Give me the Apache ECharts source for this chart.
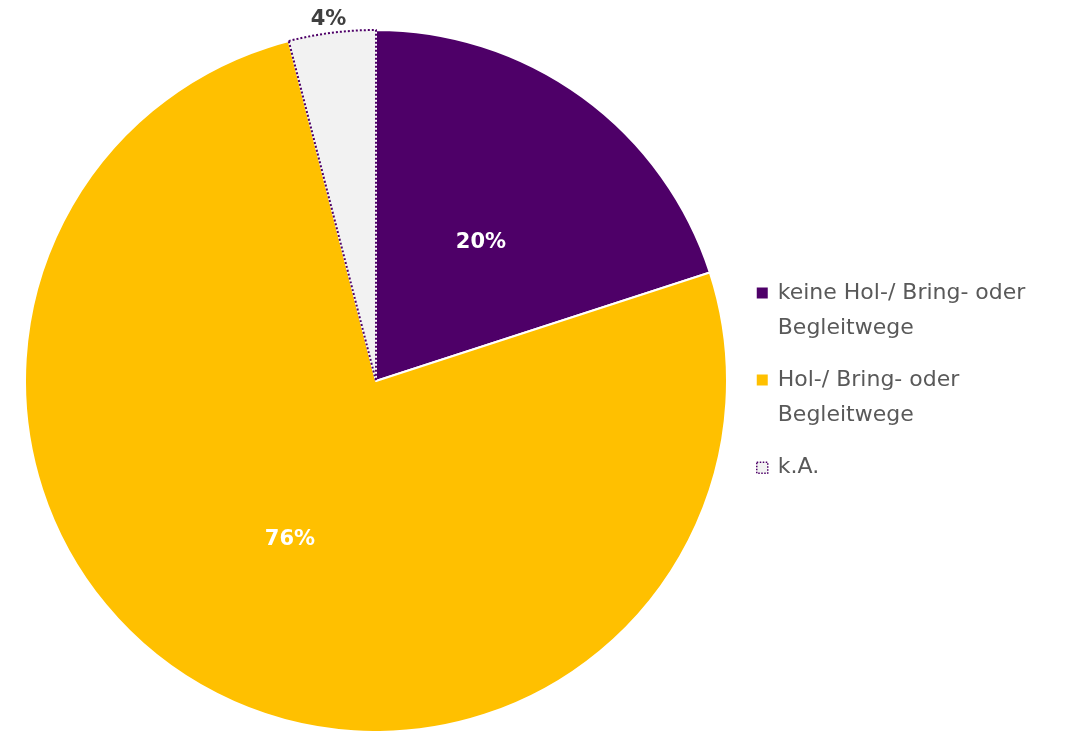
<!DOCTYPE html>
<html><head><meta charset="utf-8">
<script src="https://cdn.jsdelivr.net/npm/echarts@6/dist/echarts.min.js"></script>
<style>html,body{margin:0;padding:0;background:#fff}#c{width:1082px;height:731px}</style>
</head><body><div id="c"></div>
<script>
const categories = ['keine Hol-/ Bring- oder Begleitwege', 'Hol-/ Bring- oder Begleitwege', 'k.A.'];
const legendLabels = ['keine Hol-/ Bring- oder\nBegleitwege', 'Hol-/ Bring- oder\nBegleitwege', 'k.A.\n '];
const values = [20, 76, 4];
const colors = ['#4E0068', '#FFC000', '#F2F2F2'];
const FONT = '"DejaVu Sans", sans-serif';

const styles = [
  {color: colors[0], borderColor: '#fff', borderWidth: 2},
  {color: colors[1], borderColor: '#fff', borderWidth: 2},
  {color: colors[2], borderColor: '#4E0068', borderWidth: 2, borderType: [2, 2]}
];
const legendStyles = [
  {color: colors[0], borderWidth: 0},
  {color: colors[1], borderWidth: 0},
  {color: colors[2], borderColor: '#4E0068', borderWidth: 1.5, borderType: [1.5, 1.5]}
];
const labels = [
  {position: 'inside', color: '#fff', offset: [0, 6]},
  {position: 'inside', color: '#fff', offset: [0, 2]},
  {position: 'outside', color: '#404040', distanceToLabelLine: -16}
];
const data = categories.map((n, i) => ({
  name: n, value: values[i], itemStyle: styles[i], label: labels[i],
  labelLine: {show: false, length: 13, length2: 0}
}));

// square icon placed on the first text line inside a tall (11 x 70) icon box
const ICON = 'path://M0 12L11 12L11 23L0 23Z M0 0 M11 70';

const chart = echarts.init(document.getElementById('c'), null, {renderer: 'canvas'});
chart.setOption({
  animation: false,
  legend: {
    orient: 'vertical', left: 756, top: 275.5, padding: 0,
    itemWidth: 11, itemHeight: 70, itemGap: 17,
    icon: ICON,
    textStyle: {fontFamily: FONT, fontSize: 22, color: '#595959', lineHeight: 35, padding: [0, 0, 0, 5]},
    formatter: n => legendLabels[categories.indexOf(n)],
    data: categories.map((n, i) => ({name: n, icon: ICON, itemStyle: legendStyles[i]}))
  },
  series: [{
    type: 'pie', center: [376, 381], radius: 351, startAngle: 90, clockwise: true,
    avoidLabelOverlap: false,
    label: {show: true, formatter: p => p.value + '%', fontFamily: FONT, fontWeight: 'bold', fontSize: 21},
    emphasis: {disabled: true},
    data: data
  }]
});
</script></body></html>
